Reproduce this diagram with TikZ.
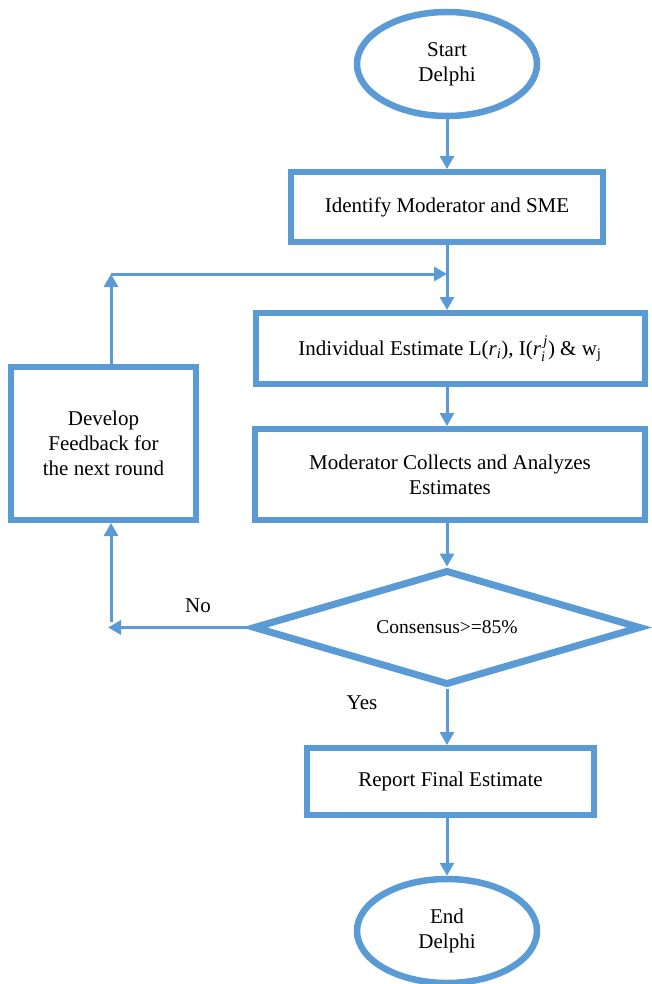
\documentclass[tikz,border=0pt]{standalone}
\usepackage{amsmath}
\usepackage{fontspec}
\setmainfont{Liberation Serif}
\usetikzlibrary{shapes.geometric,arrows.meta}
\definecolor{bl}{HTML}{5B9BD5}
\begin{document}
\begin{tikzpicture}[x=1pt,y=-1pt,
  txt/.style={font=\fontsize{21}{25}\selectfont},
  box/.style={draw=bl,line width=6pt,rectangle,inner sep=0pt,align=center,txt},
  oval/.style={draw=bl,line width=6.5pt,ellipse,inner sep=0pt,align=center,minimum width=180pt,minimum height=104pt,txt},
  decision/.style={draw=bl,line width=7pt,diamond,aspect=3.37,inner sep=0pt,line join=miter,font=\fontsize{19.5}{23}\selectfont},
  arr/.style={draw=bl,line width=3pt,-{Triangle[length=13pt,width=14pt]}},
  lbl/.style={txt}]
\useasboundingbox (0,0) rectangle (651,984);
\node[oval] (start) at (447,64) {Start\\Delphi};
\node[box,minimum width=312pt,minimum height=70pt] (ident) at (447,207) {Identify Moderator and SME};
\node[box,minimum width=389pt,minimum height=71pt] (indiv) at (450,348.5) {Individual Estimate L(\textit{r}\textsubscript{\textit{i}}), I($\textit{r}_{\textit{i}}^{\,\textit{j}}$) \& w\textsubscript{j}};
\node[box,minimum width=390pt,minimum height=91pt] (mod) at (450,474.5) {Moderator Collects and Analyzes\\Estimates};
\node[decision,minimum width=388pt,minimum height=115pt] (cons) at (447,627.5) {Consensus>=85\%};
\node[box,minimum width=185pt,minimum height=153pt] (dev) at (103.5,443.5) {Develop\\Feedback for\\the next round};
\node[box,minimum width=287pt,minimum height=67pt] (rep) at (450.5,781.5) {Report Final Estimate};
\node[oval] (end) at (447,931) {End\\Delphi};
\node[lbl] (no) at (198,606) {No};
\node[lbl] (yes) at (362,703) {Yes};
\coordinate (j) at (447,274);
\coordinate (lt) at (111,274);
\coordinate (lb) at (108,627.5);
\coordinate (lv) at (111,622);
\draw[arr] (start.south) -- (ident.north);
\draw[arr] (ident.south) -- (ident.south |- indiv.north);
\draw[arr] (dev.north -| lt) -- (lt);
\draw[arr] (lt) -- (j);
\draw[arr] (indiv.south -| j) -- (mod.north -| j);
\draw[arr] (mod.south -| j) -- (cons.north);
\draw[arr] (cons.west) -- (lb);
\draw[arr] (lv) -- (dev.south -| lv);
\draw[arr] (cons.south) -- (rep.north -| cons.south);
\draw[arr] (rep.south -| j) -- (end.north);
\end{tikzpicture}
\end{document}
